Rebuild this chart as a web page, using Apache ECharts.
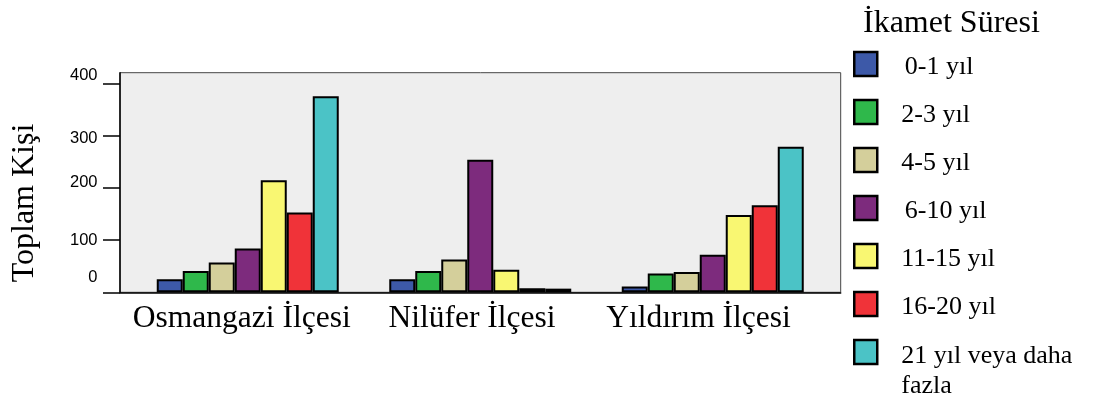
<!DOCTYPE html>
<html><head><meta charset="utf-8">
<script src="https://cdn.jsdelivr.net/npm/echarts@6/dist/echarts.min.js"></script>
<style>html,body{margin:0;padding:0;background:#fff}#c{width:1099px;height:401px}</style>
</head><body><div id="c"></div>
<script>
const categories = ['Osmangazi İlçesi', 'Nilüfer İlçesi', 'Yıldırım İlçesi'];
const seriesNames = ['0-1 yıl', '2-3 yıl', '4-5 yıl', '6-10 yıl', '11-15 yıl', '16-20 yıl', '21 yıl veya daha fazla'];
const s0_1 = [25, 25, 11];
const s2_3 = [41, 41, 36];
const s4_5 = [57, 63, 39];
const s6_10 = [84, 254, 72];
const s11_15 = [215, 43, 148];
const s16_20 = [153, 8, 167];
const s21plus = [376, 7, 279];
const yTicks = [0, 100, 200, 300, 400];
const yTitle = 'Toplam Kişi';
const legendTitle = 'İkamet Süresi';

const seriesData = [s0_1, s2_3, s4_5, s6_10, s11_15, s16_20, s21plus];
const colors = ['#3d59a8', '#2fb84b', '#d4cf9b', '#7d2b7d', '#f9f772', '#f03339', '#4bc3c6'];
const SERIF = 'Liberation Serif';
const SANS = 'Liberation Sans';
const YMAX = 421;

const yRich = {};
const yPad = {0: [0, 0, 29, 0], 100: [0, 0, 0, 0], 200: [0, 0, 12, 0], 300: [6, 0, 0, 0], 400: [0, 0, 16, 0]};
yTicks.forEach(v => { yRich['t' + v] = {fontFamily: SANS, fontSize: 16.5, color: '#000', padding: yPad[v]}; });
const xRich = {};
const xPadR = [12, 16.6, 28.6];
categories.forEach((c, i) => { xRich['c' + i] = {fontFamily: SERIF, fontSize: 31.5, color: '#000', padding: [0, xPadR[i], 0, 0]}; });

const legText = {fontFamily: SERIF, fontSize: 26, color: '#000', lineHeight: 30};
const legRich1 = {
  p: Object.assign({}, legText, {padding: [7, 0, 0, 19]}),
  q: Object.assign({}, legText, {padding: [7, 0, 0, 22.5]})
};
const legRich2 = {
  a: Object.assign({}, legText, {padding: [38, 0, 0, 19]})
};
const extraPad = ['0-1 yıl', '6-10 yıl'];

const chart = echarts.init(document.getElementById('c'), null, {renderer: 'canvas'});
chart.setOption({
  animation: false,
  backgroundColor: '#fff',
  title: {
    text: legendTitle, left: 863, top: 7.5, padding: 0,
    textStyle: {fontFamily: SERIF, fontSize: 32, fontWeight: 'normal', color: '#000'}
  },
  legend: [
    {
      data: seriesNames.slice(0, 6),
      formatter: n => '{' + (extraPad.indexOf(n) >= 0 ? 'q' : 'p') + '|' + n + '}',
      orient: 'vertical', left: 853, top: 47.5, padding: 0, itemGap: 15,
      itemWidth: 23, itemHeight: 24, icon: 'rect', selectedMode: false,
      itemStyle: {borderColor: '#000', borderWidth: 2.5},
      textStyle: Object.assign({rich: legRich1}, legText)
    },
    {
      data: [seriesNames[6]],
      formatter: n => {
        const m = n.match(/^(.*) (\S+)$/);
        return '{a|' + m[1] + '}\n{a|' + m[2] + '}';
      },
      orient: 'vertical', left: 853, top: 305, padding: 0,
      itemWidth: 23, itemHeight: 24, icon: 'rect', selectedMode: false,
      itemStyle: {borderColor: '#000', borderWidth: 2.5},
      textStyle: Object.assign({rich: legRich2}, legText)
    }
  ],
  grid: [
    {left: 120, top: 72.7, width: 720.7, height: 219.6, show: true, backgroundColor: '#eeeeee', borderColor: '#444', borderWidth: 1},
    {left: 131.5, top: 72.7, width: 697.5, height: 219.6}
  ],
  xAxis: [
    {gridIndex: 0, type: 'category', data: [''], axisLine: {lineStyle: {color: '#000', width: 1.5}}, axisTick: {show: false}, axisLabel: {show: false}},
    {gridIndex: 1, type: 'category', data: categories, axisLine: {show: false},
     axisTick: {alignWithLabel: true, length: 6, lineStyle: {color: '#000', width: 1.5}},
     axisLabel: {margin: 10, formatter: (v, i) => '{c' + i + '|' + v + '}', rich: xRich}}
  ],
  yAxis: [
    {gridIndex: 0, type: 'value', min: 0, max: YMAX, interval: 100,
     axisLine: {show: true, lineStyle: {color: '#000', width: 1.5}},
     axisTick: {show: true, length: 17, customValues: yTicks, lineStyle: {color: '#000', width: 1.5}},
     splitLine: {show: false},
     axisLabel: {margin: 22.5, customValues: yTicks, formatter: v => '{t' + v + '|' + v + '}', rich: yRich},
     name: yTitle, nameLocation: 'middle', nameRotate: 90, nameGap: 79,
     nameTextStyle: {fontFamily: SERIF, fontSize: 32, color: '#000', padding: [0, 41, 0, 0]}},
    {gridIndex: 1, type: 'value', min: 0, max: YMAX, show: false, splitLine: {show: false}}
  ],
  series: seriesNames.map((n, i) => ({
    name: n, type: 'bar', xAxisIndex: 1, yAxisIndex: 1,
    barWidth: 26, barGap: '0%', data: seriesData[i],
    itemStyle: {color: colors[i], borderColor: '#000', borderWidth: 2}
  }))
});
</script>
</body></html>
